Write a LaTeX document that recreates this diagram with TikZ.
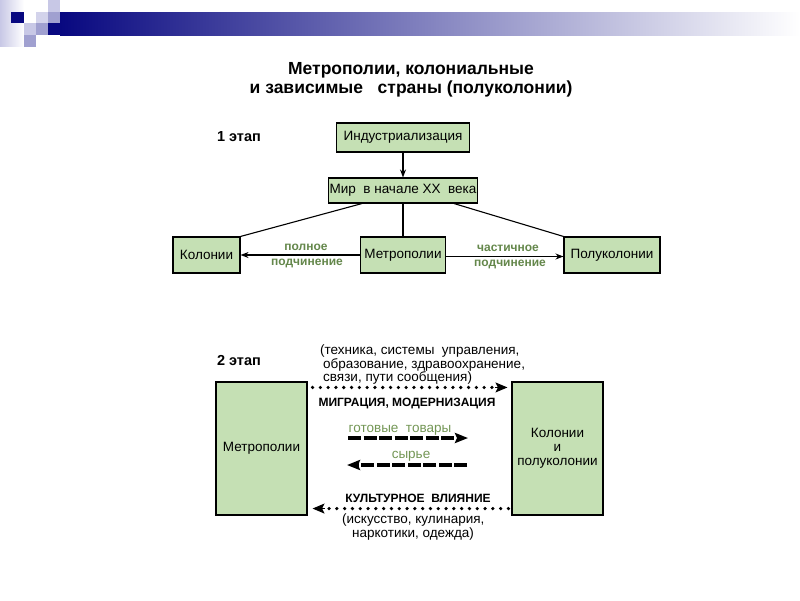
\documentclass[tikz,border=0pt]{standalone}
\usepackage{fontspec}
\setmainfont{Liberation Sans}
\usetikzlibrary{arrows.meta,calc}
\definecolor{navy}{RGB}{8,8,128}
\definecolor{lav1}{RGB}{200,200,230}
\definecolor{lav2}{RGB}{160,160,208}
\definecolor{boxfill}{RGB}{197,224,180}
\definecolor{gtop}{RGB}{100,135,75}
\definecolor{gbot}{RGB}{115,150,85}
\begin{document}
\begin{tikzpicture}[x=1pt,y=-1pt,
  gbox/.style={draw=black,line width=1.1pt,fill=boxfill,inner sep=0pt,align=center,
    font=\fontsize{13.5}{14}\selectfont},
  ttl/.style={font=\bfseries\fontsize{17.5}{19}\selectfont,align=center},
  stage/.style={font=\bfseries\fontsize{14.5}{16}\selectfont},
  glab/.style={text=gtop,font=\bfseries\fontsize{12}{12}\selectfont},
  blab/.style={text=gbot,font=\fontsize{13.5}{13.5}\selectfont},
  caps/.style={font=\bfseries\fontsize{12}{12}\selectfont},
  note/.style={font=\fontsize{13.5}{13.5}\selectfont,align=left,inner sep=0pt},
  thin/.style={line width=1.1pt},
  thinarrow/.style={thin,-{Stealth[length=8pt,width=6pt]}},
  dotline/.style={line width=3.6pt,line cap=round,dash pattern=on 0pt off 7.8pt},
  bighead/.style={line width=1pt,-{Stealth[length=12pt,width=10pt,inset=2.5pt]}},
  dasharrow/.style={line width=3.6pt,dash pattern=on 13pt off 2.5pt,
    -{Stealth[length=13pt,width=10pt,inset=2pt]}}
]
\useasboundingbox (0,0) rectangle (800,600);
% --- decoration
\shade[left color=lav1,right color=white] (0,0) rectangle (24,46);
\shade[left color=navy,right color=white] (60,12) rectangle (800,35);
\fill[navy] (11,12) rectangle (24,23);
\fill[lav1] (48,0) rectangle (60,12);
\fill[lav1!80!white] (36,12) rectangle (48,23);
\fill[lav2] (48,12) rectangle (60,23);
\fill[lav1] (24,23) rectangle (36,35);
\fill[lav2] (36,23) rectangle (48,35);
\fill[navy] (48,23) rectangle (60.5,35);
\fill[lav2] (24,35) rectangle (36,47);
% --- title
\node[ttl] (title) at (411,80) {Метрополии, колониальные\\и зависимые\ \ \ страны (полуколонии)};
% --- stage 1
\node[stage] (st1) at (239,137) {1 этап};
\node[gbox,minimum width=133,minimum height=29] (ind) at (403,137.5) {Индустриализация};
\node[gbox,minimum width=149,minimum height=25] (mir) at (403,190.5) {Мир\ \ в начале XX\ \ века};
\node[gbox,minimum width=67,minimum height=36] (kol) at (206.5,255) {Колонии};
\node[gbox,minimum width=85,minimum height=36] (met) at (403,255) {Метрополии};
\node[gbox,minimum width=96,minimum height=36] (pol) at (612,255) {Полуколонии};
\draw[thinarrow] (ind.south) -- (mir.north);
\draw[thin] ([xshift=34pt]mir.south west) -- (kol.north east);
\draw[thin] (mir.south) -- (met.north);
\draw[thin] ([xshift=-24pt]mir.south east) -- (pol.north west);
\draw[thinarrow] (met.west) -- (kol.east);
\draw[thinarrow] ([yshift=-1.5pt]met.east) -- ([yshift=-1.5pt]pol.west);
\node[glab] (l1) at (306,247) {полное};
\node[glab] (l2) at (307,263) {подчинение};
\node[glab] (r1) at (508,248) {частичное};
\node[glab] (r2) at (510,264) {подчинение};
% --- stage 2
\node[stage] (st2) at (239,361) {2 этап};
\node[note,anchor=north west] (tech) at (320,345) {(техника, системы\ \ управления,\\\hspace{3pt}образование, здравоохранение,\\\hspace{3pt}связи, пути сообщения)};
\node[gbox,minimum width=91,minimum height=133] (mL) at (261.5,448.5) {Метрополии};
\node[gbox,minimum width=91,minimum height=133] (cR) at (557.5,448.5) {Колонии\\и\\полуколонии};
% top dotted arrow
\coordinate (ta) at ([yshift=-6pt]mL.north east);
\coordinate (tb) at ([yshift=-6pt,xshift=-4pt]cR.north west);
\draw[dotline] ([xshift=5pt]ta) -- ($(tb)+(-12,0)$);
\draw[bighead] ($(tb)+(-12,0)$) -- (tb);
\node[caps] (mig) at (407,403) {МИГРАЦИЯ, МОДЕРНИЗАЦИЯ};
\node[blab] (gt) at (400,430) {готовые\ \ товары};
\coordinate (g1) at (348,438);
\coordinate (g2) at (468,438);
\draw[dasharrow] (g1) -- (g2);
\node[blab] (sy) at (411,456) {сырье};
\coordinate (s1) at (467,465);
\coordinate (s2) at (347,465);
\draw[dasharrow] (s1) -- (s2);
\node[caps] (cul) at (418,498) {КУЛЬТУРНОЕ\ \ ВЛИЯНИЕ};
% bottom dotted arrow
\coordinate (ba) at ([yshift=7pt,xshift=-3pt]cR.south west);
\coordinate (bb) at ([yshift=7pt,xshift=5pt]mL.south east);
\draw[dotline] (ba) -- ($(bb)+(12,0)$);
\draw[bighead] ($(bb)+(12,0)$) -- (bb);
\node[note,anchor=north west] (art) at (342,514) {(искусство,\ кулинария,\\\hspace{10pt}наркотики, одежда)};
\end{tikzpicture}
\end{document}
